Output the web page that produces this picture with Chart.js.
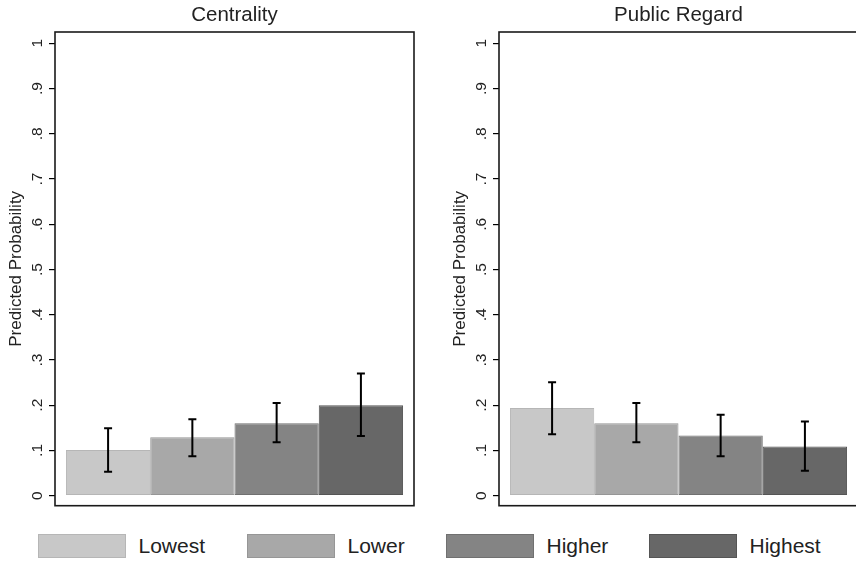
<!DOCTYPE html>
<html><head><meta charset="utf-8">
<script src="https://cdn.jsdelivr.net/npm/chart.js@4.4.1/dist/chart.umd.min.js"></script>
<style>
html,body{margin:0;padding:0;background:#fff;width:856px;height:564px;overflow:hidden;position:relative;font-family:"Liberation Sans",Arial,sans-serif;}
.panel{position:absolute;top:0;width:428px;height:520px;}
#legend{position:absolute;left:0;top:534px;width:856px;height:24px;}
#legend .item{position:absolute;top:0;display:flex;align-items:center;}
#legend .sw{height:24px;width:88px;box-sizing:border-box;border:1px solid;margin-right:12.5px;}
#legend .lb{font-size:21px;color:#222;line-height:24px;white-space:nowrap;}
</style></head><body>
<div class="panel" style="left:0"><canvas id="c1"></canvas></div>
<div class="panel" style="left:444px"><canvas id="c2"></canvas></div>
<div id="legend"></div>
<script>
// ---- data ----
const categories = ['Lowest', 'Lower', 'Higher', 'Highest'];
const panelTitles = ['Centrality', 'Public Regard'];
const centralityValues = [0.101, 0.129, 0.160, 0.200];
const centralityLower  = [0.053, 0.087, 0.118, 0.132];
const centralityUpper  = [0.149, 0.169, 0.205, 0.270];
const regardValues = [0.194, 0.160, 0.133, 0.109];
const regardLower  = [0.136, 0.118, 0.087, 0.055];
const regardUpper  = [0.251, 0.205, 0.179, 0.164];
const tickValues = [0, 0.1, 0.2, 0.3, 0.4, 0.5, 0.6, 0.7, 0.8, 0.9, 1];
const tickLabels = ['0', '.1', '.2', '.3', '.4', '.5', '.6', '.7', '.8', '.9', '1'];
const yTitle = 'Predicted Probability';

// ---- style / layout ----
const fillColors   = ['#c8c8c8', '#a8a8a8', '#848484', '#676767'];
const borderColors = ['#b6b6b6', '#969696', '#707070', '#555555'];
const legendLeft   = [38, 247, 446, 649];
const FONT = '"Liberation Sans", Arial, sans-serif';
const TEXT = '#222222';

const errorBars = {
  id: 'errorBars',
  afterDatasetsDraw(chart, args, opts) {
    const ctx = chart.ctx, y = chart.scales.y;
    ctx.save();
    ctx.strokeStyle = '#000';
    ctx.lineWidth = 2;
    chart.data.datasets.forEach((ds, i) => {
      const bar = chart.getDatasetMeta(i).data[0];
      if (!bar) return;
      const x = bar.x;
      const yl = y.getPixelForValue(opts.lower[i]);
      const yu = y.getPixelForValue(opts.upper[i]);
      const cap = 4;
      ctx.beginPath();
      ctx.moveTo(x, yl); ctx.lineTo(x, yu);
      ctx.moveTo(x - cap, yl); ctx.lineTo(x + cap, yl);
      ctx.moveTo(x - cap, yu); ctx.lineTo(x + cap, yu);
      ctx.stroke();
    });
    ctx.restore();
  }
};

const plotBox = {
  id: 'plotBox',
  afterDraw(chart) {
    const a = chart.chartArea, ctx = chart.ctx;
    ctx.save();
    ctx.strokeStyle = '#1a1a1a';
    ctx.lineWidth = 1.6;
    ctx.strokeRect(a.left, a.top, a.right - a.left, a.bottom - a.top);
    ctx.restore();
  }
};

function makeChart(id, title, values, lower, upper) {
  return new Chart(document.getElementById(id), {
    type: 'bar',
    data: {
      labels: [''],
      datasets: categories.map((c, i) => ({
        label: c,
        data: [values[i]],
        backgroundColor: fillColors[i],
        borderColor: borderColors[i],
        borderWidth: 1,
        borderSkipped: false,
        categoryPercentage: 0.939,
        barPercentage: 1
      }))
    },
    options: {
      responsive: true,
      maintainAspectRatio: false,
      animation: false,
      devicePixelRatio: 1,
      layout: { padding: { left: 0, right: 14, top: 0, bottom: 13 } },
      plugins: {
        legend: { display: false },
        tooltip: { enabled: false },
        title: {
          display: true, text: title, fullSize: false,
          color: TEXT, font: { family: FONT, size: 20.5, weight: 'normal' },
          padding: { top: 3, bottom: 4.4 }
        },
        errorBars: { lower, upper }
      },
      scales: {
        x: { display: false },
        y: {
          min: -0.0221, max: 1.0249,
          afterBuildTicks: (axis) => { axis.ticks = tickValues.map(v => ({ value: v })); },
          afterFit: (axis) => { axis.width = 55; },
          border: { display: false },
          grid: { display: true, drawOnChartArea: false, drawTicks: true, tickLength: 6, color: '#000', lineWidth: 1.2 },
          ticks: {
            minRotation: 90, maxRotation: 90, crossAlign: 'center', padding: 5,
            color: TEXT, font: { family: FONT, size: 15.5 },
            callback: (v, i) => tickLabels[i]
          },
          title: {
            display: true, text: yTitle, color: TEXT,
            font: { family: FONT, size: 17 }, padding: { top: 5.8, bottom: 0 }
          }
        }
      }
    },
    plugins: [errorBars, plotBox]
  });
}

makeChart('c1', panelTitles[0], centralityValues, centralityLower, centralityUpper);
makeChart('c2', panelTitles[1], regardValues, regardLower, regardUpper);

// HTML legend built from categories
const leg = document.getElementById('legend');
categories.forEach((c, i) => {
  const item = document.createElement('div'); item.className = 'item';
  item.style.left = legendLeft[i] + 'px';
  const sw = document.createElement('div'); sw.className = 'sw';
  sw.style.background = fillColors[i]; sw.style.borderColor = borderColors[i];
  const lb = document.createElement('span'); lb.className = 'lb'; lb.textContent = c;
  item.appendChild(sw); item.appendChild(lb); leg.appendChild(item);
});
</script>
</body></html>
